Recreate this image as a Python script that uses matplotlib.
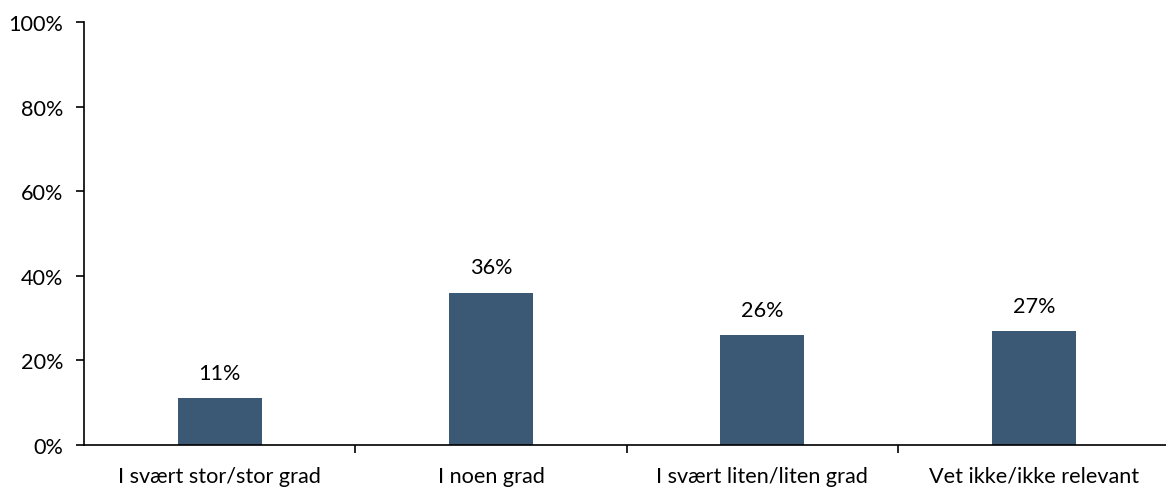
import matplotlib.pyplot as plt
from matplotlib.ticker import FuncFormatter

# Svarfordeling per kategori (prosent)
kategorier = ['I svært stor/stor grad', 'I noen grad', 'I svært liten/liten grad', 'Vet ikke/ikke relevant']
andeler = [11, 36, 26, 27]

BarFarge = '#3B5875'
plt.rcParams['font.family'] = ['Lato', 'DejaVu Sans']
Str = 15.6

fig = plt.figure(figsize=(11.66, 4.89), dpi=100)
ax = fig.add_axes([0.072, 0.088, 0.931, 0.865])

pos = range(len(kategorier))
ax.bar(pos, andeler, width=0.31, color=BarFarge)

# Verdier over stolpene
for x, v in zip(pos, andeler):
    ax.text(x, v + 3.6, f'{v}%', ha='center', va='bottom', fontsize=Str, color='black')

ax.set_xlim(-0.5, len(kategorier) - 0.5)
ax.set_ylim(0, 100)
ax.set_yticks(range(0, 101, 20))
ax.yaxis.set_major_formatter(FuncFormatter(lambda y, _: f'{int(y)}%'))

# Kategorinavn midt i hver gruppe, tick-streker mellom gruppene
ax.set_xticks([i + 0.5 for i in range(len(kategorier) - 1)])
ax.set_xticklabels([])
ax.set_xticks(list(pos), minor=True)
ax.set_xticklabels(kategorier, minor=True)
ax.tick_params(axis='x', which='minor', length=0, pad=15, labelsize=Str)
ax.tick_params(axis='x', which='major', length=6, width=1.2, direction='out')
ax.tick_params(axis='y', length=6, width=1.2, pad=9, labelsize=Str)

for side in ['top', 'right']:
    ax.spines[side].set_visible(False)
ax.spines['left'].set_linewidth(1.2)
ax.spines['bottom'].set_linewidth(1.2)

plt.savefig('out.png', dpi=100)
